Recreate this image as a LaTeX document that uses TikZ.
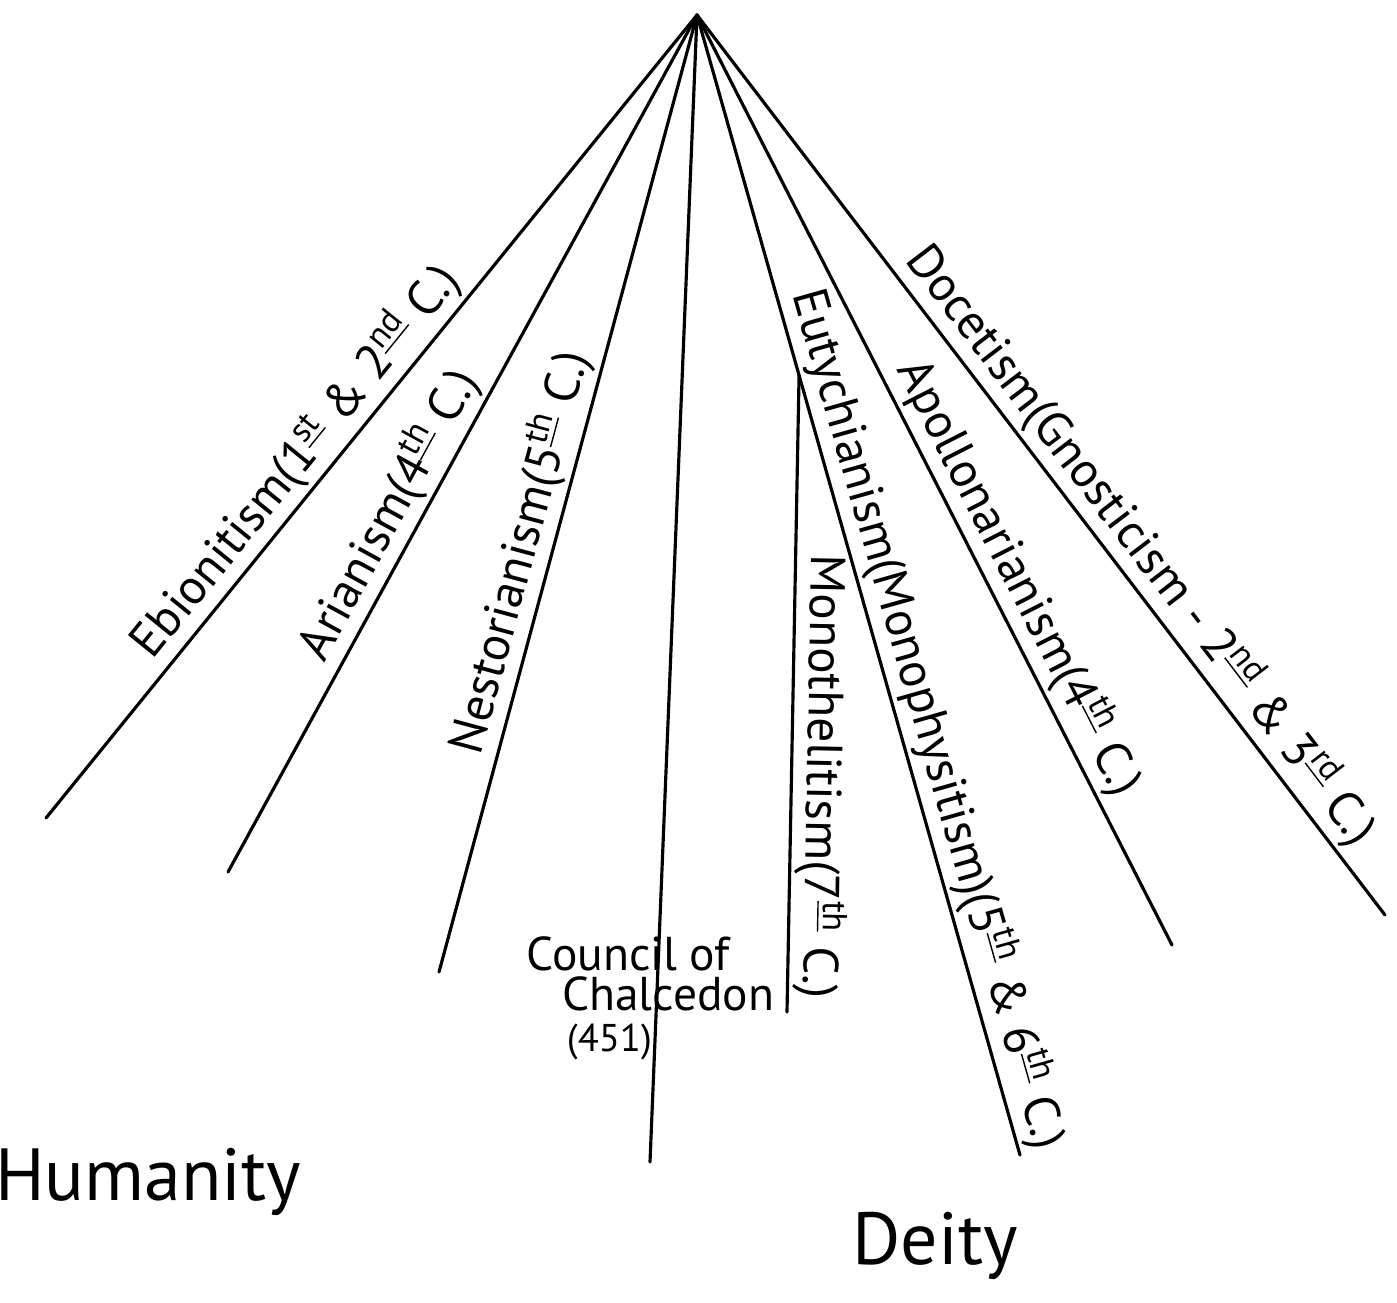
\documentclass[tikz,border=0pt]{standalone}
\usepackage{fontspec}
\setmainfont{PT Sans}
\usetikzlibrary{calc}
\newcommand{\ordn}[1]{\textsuperscript{\underline{#1}}}

\begin{document}
\begin{tikzpicture}[x=0.01cm, y=-0.01cm, line width=0.9pt, line cap=round,
    heresy/.style={sloped, above, inner sep=1pt, font=\fontsize{14}{16}\selectfont},
    side/.style={font=\fontsize{21}{24}\selectfont}]
    \useasboundingbox (0,0) rectangle (1397,1302);

    % the point where every line meets
    \coordinate (apex) at (697,15);
    % free ends, humanity side
    \coordinate (ebion) at (46,818);
    \coordinate (arian) at (228,872);
    \coordinate (nestor) at (439,972);
    \coordinate (chalc) at (650,1162);
    % free ends, deity side
    \coordinate (mono) at (787,1012);
    \coordinate (eutych) at (1020,1155);
    \coordinate (apoll) at (1172,945);
    \coordinate (docet) at (1385,915);
    \coordinate (branch) at ($(apex)!0.316!(eutych)$);

    \path
    (ebion) edge node[heresy, pos=0.42] {Ebionitism(1\ordn{st} \& 2\ordn{nd} C.)} (apex)
    (arian) edge node[heresy, pos=0.40] {Arianism(4\ordn{th} C.)} (apex)
    (nestor) edge node[heresy, pos=0.43] {Nestorianism(5\ordn{th} C.)} (apex)
    (apex) edge (chalc);

    \path
    (apex) edge node[heresy, pos=0.625] {Eutychianism(Monophysitism)(5\ordn{th} \& 6\ordn{th} C.)} (eutych)
    (branch) edge node[heresy, allow upside down, pos=0.63] {Monothelitism(7\ordn{th} C.)} (mono)
    (apex) edge node[heresy, pos=0.62] {Apollonarianism(4\ordn{th} C.)} (apoll)
    (apex) edge node[heresy, pos=0.61] {Docetism(Gnosticism - 2\ordn{nd} \& 3\ordn{rd} C.)} (docet);

    \node[anchor=north west, align=left, inner sep=0pt, font=\fontsize{13.5}{11.5}\selectfont] (council) at (525,935)
      {Council of\\\hspace*{0.75em}Chalcedon\\\hspace*{0.85em}\fontsize{11}{11}\selectfont(451)};

    \node[side] (humanity) at (148,1182) {Humanity};
    \node[side] (deity) at (935,1246) {Deity};
\end{tikzpicture}
\end{document}
